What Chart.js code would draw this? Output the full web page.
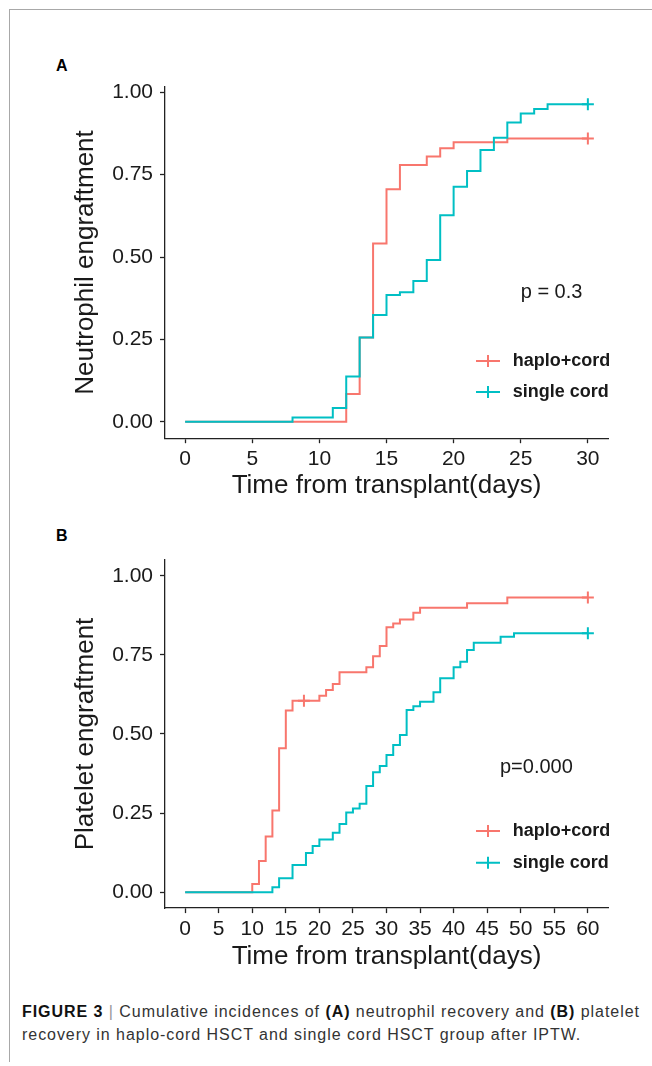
<!DOCTYPE html>
<html>
<head>
<meta charset="utf-8">
<script src="https://cdn.jsdelivr.net/npm/chart.js@4.4.1/dist/chart.umd.min.js"></script>
<style>
  body { margin: 0; background: #fff; }
  #page { position: relative; width: 652px; height: 1066px; overflow: hidden;
          font-family: "Liberation Sans", Arial, sans-serif; }
  .frame-top { position: absolute; left: 9px; top: 9px; width: 643px; height: 1px; background: #a8a8a8; }
  .frame-left { position: absolute; left: 9px; top: 9px; width: 1px; height: 1053px; background: #a8a8a8; }
  .tag { position: absolute; left: 56px; font-weight: bold; font-size: 16px; line-height: 16px; color: #000; }
  .panel { position: absolute; left: 0; width: 652px; height: 450px; }
  .caption { position: absolute; left: 22px; top: 1000px; font-size: 16px; line-height: 23px;
             color: #333; letter-spacing: 0.95px; white-space: nowrap; }
  .caption b { color: #111; }
  .caption .sep { color: #999; }
</style>
</head>
<body>
<div id="page">
  <div class="frame-top"></div>
  <div class="frame-left"></div>

  <div class="tag" style="top:58px">A</div>
  <div class="panel" style="top:60px"><canvas id="chartA" width="652" height="450"></canvas></div>

  <div class="tag" style="top:528px">B</div>
  <div class="panel" style="top:530px"><canvas id="chartB" width="652" height="450"></canvas></div>

  <div class="caption"><b>FIGURE 3</b> <span class="sep">|</span> Cumulative incidences of <b>(A)</b> neutrophil recovery and <b>(B)</b> platelet<br>recovery in haplo-cord HSCT and single cord HSCT group after IPTW.</div>
</div>

<script>
// ----------------------
// DATA
// ----------------------
const groups = ["haplo+cord", "single cord"];
const yTicks = [0, 0.25, 0.5, 0.75, 1];

// A: neutrophil engraftment
const neutTicks = [0, 5, 10, 15, 20, 25, 30];
const neutHaploDays = [0, 12, 13, 14, 15, 16, 18, 19, 20, 24, 30];
const neutHaplo = [0, 0.084, 0.256, 0.541, 0.706, 0.779, 0.805, 0.830, 0.848, 0.860, 0.860];
const neutCordDays = [0, 8, 11, 12, 13, 14, 15, 16, 17, 18, 19, 20, 21, 22, 23, 24, 25, 26, 27, 30];
const neutCord = [0, 0.013, 0.042, 0.137, 0.256, 0.324, 0.385, 0.393, 0.427, 0.491, 0.627, 0.713, 0.761, 0.825, 0.862, 0.908, 0.936, 0.949, 0.964, 0.964];
const neutHaploCensDays = [30];
const neutHaploCens = [0.860];
const neutCordCensDays = [30];
const neutCordCens = [0.964];

// B: platelet engraftment
const platTicks = [0, 5, 10, 15, 20, 25, 30, 35, 40, 45, 50, 55, 60];
const platHaploDays = [0, 10, 11, 12, 13, 14, 15, 16, 20, 21, 22, 23, 27, 28, 29, 30, 31, 32, 34, 35, 42, 48, 60];
const platHaplo = [0, 0.026, 0.099, 0.176, 0.258, 0.455, 0.574, 0.605, 0.621, 0.639, 0.658, 0.695, 0.711, 0.746, 0.778, 0.837, 0.849, 0.862, 0.883, 0.899, 0.913, 0.931, 0.931];
const platCordDays = [0, 13, 14, 16, 18, 19, 20, 22, 23, 24, 25, 26, 27, 28, 29, 30, 31, 32, 33, 34, 35, 37, 38, 40, 41, 42, 43, 47, 49, 60];
const platCord = [0, 0.016, 0.044, 0.086, 0.124, 0.146, 0.167, 0.188, 0.216, 0.252, 0.265, 0.280, 0.336, 0.379, 0.399, 0.434, 0.465, 0.497, 0.576, 0.588, 0.602, 0.632, 0.676, 0.711, 0.728, 0.765, 0.788, 0.807, 0.818, 0.818];
const platHaploCensDays = [17.7, 60];
const platHaploCens = [0.605, 0.931];
const platCordCensDays = [60];
const platCordCens = [0.818];


// ----------------------
// STYLE
// ----------------------
const FONT = "'Liberation Sans', Arial, sans-serif";
const HAPLO_COLOR = "#F8766D";
const CORD_COLOR = "#00BFC4";
const INK = "#1a1a1a";
const AXIS = "#222";

function toPoints(xs, ys) {
  return xs.map((x, i) => ({ x: x, y: ys[i] }));
}


// ----------------------
// LEGEND + P VALUE (drawn inside the panel)
// ----------------------
const kmExtras = {
  id: "kmExtras",
  afterDatasetsDraw(chart, args, opts) {
    const { ctx, chartArea: a } = chart;
    const colors = [HAPLO_COLOR, CORD_COLOR];
    ctx.save();
    groups.forEach((name, i) => {
      const y = a.bottom - opts.keyRows[i];
      const x0 = a.left + opts.keyX;
      ctx.strokeStyle = colors[i];
      ctx.lineWidth = 2;
      ctx.beginPath();
      ctx.moveTo(x0, y);
      ctx.lineTo(x0 + 24, y);
      ctx.moveTo(x0 + 12, y - 6);
      ctx.lineTo(x0 + 12, y + 6);
      ctx.stroke();
      ctx.fillStyle = INK;
      ctx.font = "bold 18px " + FONT;
      ctx.textAlign = "left";
      ctx.textBaseline = "middle";
      ctx.fillText(name, x0 + 36.7, y);
    });
    ctx.font = "20px " + FONT;
    ctx.fillText(opts.pText, a.left + opts.pX, a.bottom - opts.pY);
    ctx.restore();
  }
};


// ----------------------
// PANEL BUILDER
// ----------------------
function buildPanel(canvasId, p) {
  const stepLine = (data, color, order) => ({
    data: data,
    borderColor: color,
    borderWidth: 2,
    stepped: true,
    pointRadius: 0,
    fill: false,
    order: order
  });
  const censor = (data, color) => ({
    data: data,
    showLine: false,
    pointStyle: "cross",
    pointRadius: 6,
    pointBorderWidth: 2,
    borderColor: color,
    backgroundColor: color,
    order: 0
  });

  return new Chart(document.getElementById(canvasId), {
    type: "line",
    data: {
      datasets: [
        stepLine(toPoints(p.cordDays, p.cord), CORD_COLOR, 1),
        stepLine(toPoints(p.haploDays, p.haplo), HAPLO_COLOR, 2),
        censor(toPoints(p.cordCensDays, p.cordCens), CORD_COLOR),
        censor(toPoints(p.haploCensDays, p.haploCens), HAPLO_COLOR)
      ]
    },
    options: {
      responsive: false,
      animation: false,
      layout: { padding: { top: p.padTop, right: 44, bottom: 0, left: 0 } },
      plugins: {
        legend: { display: false },
        tooltip: { enabled: false },
        kmExtras: { keyX: 311, keyRows: p.keyRows, pText: p.pText, pX: p.pX, pY: p.pY }
      },
      scales: {
        x: {
          type: "linear",
          min: p.xMin,
          max: p.xMax,
          afterBuildTicks: s => { s.ticks = p.xTicks.map(v => ({ value: v })); },
          afterFit: s => { s.height = 450 - p.padTop - p.plotHeight; },
          ticks: { autoSkip: false, maxRotation: 0, color: INK, padding: 3.5,
                   font: { family: FONT, size: 21 } },
          grid: { display: true, drawOnChartArea: false, drawTicks: true,
                  tickLength: 5, tickColor: AXIS, tickWidth: 1.3 },
          border: { display: true, color: AXIS, width: 1.3 },
          title: { display: true, text: "Time from transplant(days)", color: INK,
                   font: { family: FONT, size: 26 }, padding: { top: 0, bottom: p.xTitlePad } }
        },
        y: {
          min: -0.05,
          max: p.yMax,
          afterBuildTicks: s => { s.ticks = yTicks.map(v => ({ value: v })); },
          afterFit: s => { s.width = 165; },
          ticks: { color: INK, padding: 7, font: { family: FONT, size: 21 },
                   callback: v => Number(v).toFixed(2) },
          grid: { display: true, drawOnChartArea: false, drawTicks: true,
                  tickLength: 5, tickColor: AXIS, tickWidth: 1.3 },
          border: { display: true, color: AXIS, width: 1.3 },
          title: { display: true, text: p.yTitle, color: INK,
                   font: { family: FONT, size: 26 }, padding: { top: 70, bottom: 0 } }
        }
      }
    },
    plugins: [kmExtras]
  });
}


// ----------------------
// PANELS
// ----------------------
buildPanel("chartA", {
  haploDays: neutHaploDays, haplo: neutHaplo,
  cordDays: neutCordDays, cord: neutCord,
  haploCensDays: neutHaploCensDays, haploCens: neutHaploCens,
  cordCensDays: neutCordCensDays, cordCens: neutCordCens,
  xTicks: neutTicks, xMin: -1.5, xMax: 31.5, yMax: 1.017,
  padTop: 26.7, plotHeight: 351.5, xTitlePad: 8.6,
  yTitle: "Neutrophil engraftment",
  keyRows: [77.2, 46.2], pText: "p = 0.3", pX: 355.7, pY: 145.8
});

buildPanel("chartB", {
  haploDays: platHaploDays, haplo: platHaplo,
  cordDays: platCordDays, cord: platCord,
  haploCensDays: platHaploCensDays, haploCens: platHaploCens,
  cordCensDays: platCordCensDays, cordCens: platCordCens,
  xTicks: platTicks, xMin: -3, xMax: 63, yMax: 1.05,
  padTop: 29.9, plotHeight: 348.2, xTitlePad: 7.7,
  yTitle: "Platelet engraftment",
  keyRows: [77.1, 45.4], pText: "p=0.000", pX: 335, pY: 140.7
});
</script>
</body>
</html>
